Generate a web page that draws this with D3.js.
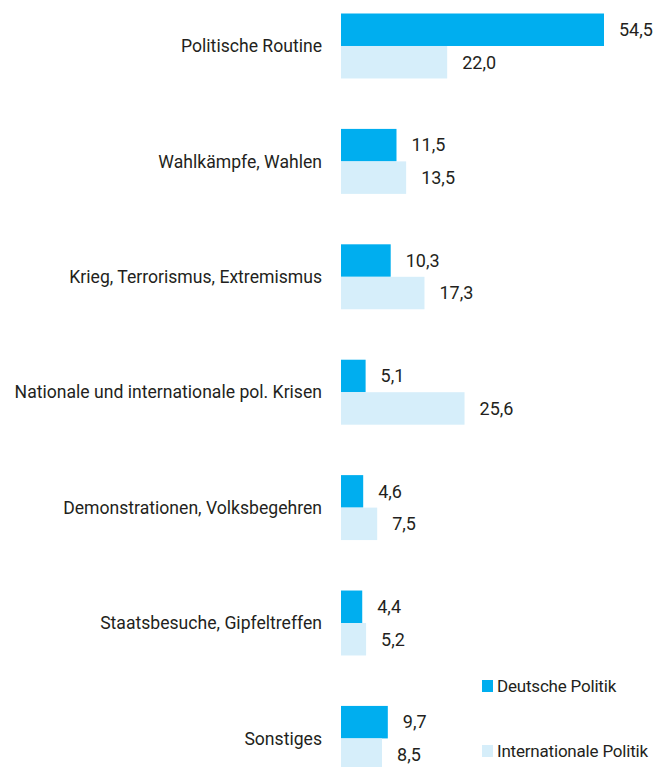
<!DOCTYPE html>
<html>
<head>
<meta charset="utf-8">
<script src="https://cdn.jsdelivr.net/npm/d3@7"></script>
<style>
  html, body { margin: 0; padding: 0; background: #fff; }
  svg { display: block; }
  text { font-family: "Roboto", "Liberation Sans", sans-serif; fill: #231f20; }
</style>
</head>
<body>
<div id="chart"></div>
<script>
const categories = [
  "Politische Routine",
  "Wahlkämpfe, Wahlen",
  "Krieg, Terrorismus, Extremismus",
  "Nationale und internationale pol. Krisen",
  "Demonstrationen, Volksbegehren",
  "Staatsbesuche, Gipfeltreffen",
  "Sonstiges"
];
const seriesNames = ["Deutsche Politik", "Internationale Politik"];
const deutsche = [54.5, 11.5, 10.3, 5.1, 4.6, 4.4, 9.7];
const international = [22.0, 13.5, 17.3, 25.6, 7.5, 5.2, 8.5];
const colors = ["#00aeef", "#d6eefa"];

const W = 658, H = 767;
const x0 = 341;
const svg = d3.select("#chart").append("svg").attr("width", W).attr("height", H);

const x = d3.scaleLinear().domain([0, 54.5]).range([x0, 604]);
const y = d3.scaleBand().domain(categories).range([13.5, 13.5 + 6 * 115.4 + 65]).paddingInner(0.437).paddingOuter(0);
const ySub = d3.scaleBand().domain(seriesNames).range([0, y.bandwidth()]);

const fmt = v => d3.format(".1f")(v).replace(".", ",");

const rows = categories.map((c, i) => ({ cat: c, vals: [deutsche[i], international[i]] }));

const g = svg.selectAll("g.grp").data(rows).join("g").attr("class", "grp")
  .attr("transform", d => `translate(0,${y(d.cat)})`);

g.selectAll("rect").data(d => d.vals.map((v, j) => ({ v, s: seriesNames[j], j })))
  .join("rect")
  .attr("x", x(0))
  .attr("y", d => ySub(d.s))
  .attr("width", d => x(d.v) - x(0))
  .attr("height", ySub.bandwidth())
  .attr("fill", d => colors[d.j]);

g.selectAll("text.val").data(d => d.vals.map((v, j) => ({ v, s: seriesNames[j], j })))
  .join("text").attr("class", "val")
  .attr("x", d => x(d.v) + 15)
  .attr("y", d => ySub(d.s) + ySub.bandwidth() / 2)
  .attr("dy", "0.35em")
  .attr("font-size", 18)
  .text(d => fmt(d.v));

g.append("text")
  .attr("x", 322)
  .attr("y", y.bandwidth() / 2)
  .attr("dy", "0.35em")
  .attr("text-anchor", "end")
  .attr("font-size", 17.6)
  .text(d => d.cat);

// legend
const legend = svg.append("g").attr("transform", "translate(482,680)");
seriesNames.forEach((s, j) => {
  const lg = legend.append("g").attr("transform", `translate(0,${j * 65})`);
  lg.append("rect").attr("width", 11).attr("height", 12).attr("fill", colors[j]);
  lg.append("text").attr("x", 15).attr("y", 6).attr("dy", "0.35em").attr("font-size", 17).attr("letter-spacing", -0.2).text(s);
});
</script>
</body>
</html>
